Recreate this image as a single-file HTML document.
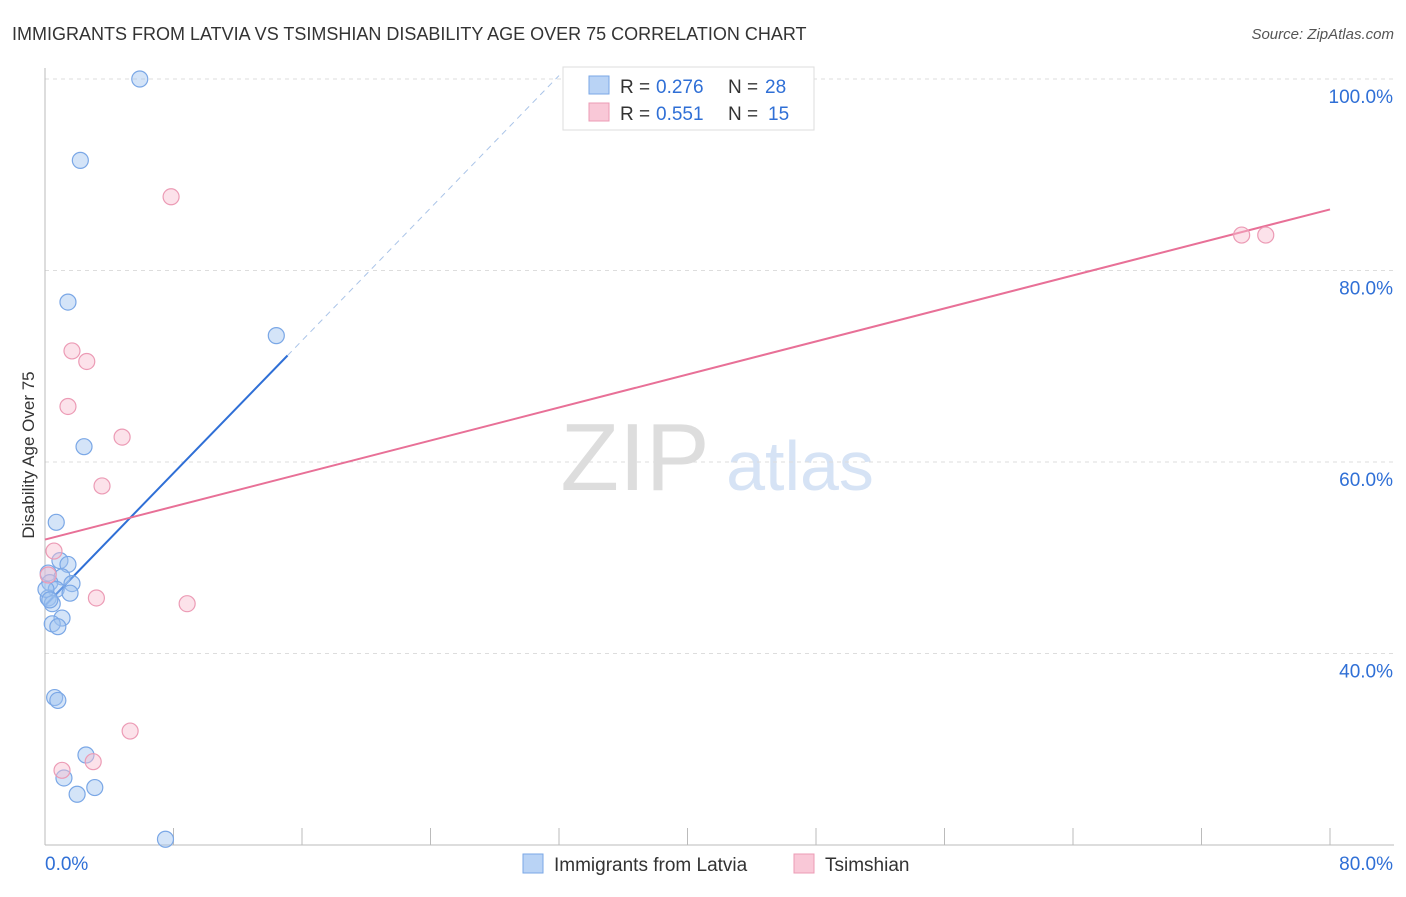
<!DOCTYPE html>
<html><head><meta charset="utf-8"><style>
body{margin:0;background:#fff;font-family:"Liberation Sans",sans-serif;}
svg text{font-family:"Liberation Sans",sans-serif;}
</style></head><body>
<svg id="chart" width="1406" height="892" viewBox="0 0 1406 892">
<text x="12" y="40" font-size="18" fill="#333">IMMIGRANTS FROM LATVIA VS TSIMSHIAN DISABILITY AGE OVER 75 CORRELATION CHART</text>
<text x="1394" y="39" font-size="15" fill="#555" text-anchor="end" font-style="italic">Source: ZipAtlas.com</text>
<text x="34" y="455" font-size="17" fill="#333" text-anchor="middle" transform="rotate(-90 34 455)">Disability Age Over 75</text>
<g><text x="635" y="490" font-size="96" fill="#ddd" font-family="Liberation Serif" text-anchor="middle">ZIP</text><text x="800" y="490" font-size="70" fill="#d6e3f5" text-anchor="middle">atlas</text></g>
<g id="grid"></g><g id="axes"></g><g id="lines"></g><g id="points"></g>
<g>
<rect x="563" y="67" width="251" height="63" fill="#fff" stroke="#ddd"/>
<rect x="589" y="76" width="20" height="18" fill="#b9d3f5" stroke="#7aa7e6"/>
<rect x="589" y="103" width="20" height="18" fill="#f9c8d7" stroke="#ec9bb5"/>
<text x="620" y="93" font-size="19" fill="#333">R =</text><text x="656" y="93" font-size="19" fill="#2f6fd6">0.276</text>
<text x="728" y="93" font-size="19" fill="#333">N =</text><text x="765" y="93" font-size="19" fill="#2f6fd6">28</text>
<text x="620" y="120" font-size="19" fill="#333">R =</text><text x="656" y="120" font-size="19" fill="#2f6fd6">0.551</text>
<text x="728" y="120" font-size="19" fill="#333">N =</text><text x="768" y="120" font-size="19" fill="#2f6fd6">15</text>
</g>
<g>
<rect x="523" y="854" width="20" height="19" fill="#b9d3f5" stroke="#7aa7e6"/>
<text x="554" y="871" font-size="19" fill="#333">Immigrants from Latvia</text>
<rect x="794" y="854" width="20" height="19" fill="#f9c8d7" stroke="#ec9bb5"/>
<text x="825" y="871" font-size="19" fill="#333">Tsimshian</text>
</g>
</svg>
<script>
const blueX=[5.9,2.2,1.43,14.4,2.43,0.7,0.93,1.43,0.2,1.06,0.3,1.68,0.7,1.56,0.2,0.45,1.06,0.45,0.8,0.6,0.8,2.55,1.18,3.1,2.0,7.5,0.06,0.3];
const blueY=[100,91.5,76.7,73.2,61.6,53.7,49.7,49.3,48.4,48.0,47.4,47.3,46.7,46.3,45.8,45.2,43.7,43.1,42.8,35.4,35.1,29.4,27.0,26.0,25.3,20.6,46.7,45.6];
const pinkX=[7.85,1.68,2.6,1.43,4.8,3.55,0.56,0.2,3.2,8.85,5.3,1.06,3.0,74.5,76.0];
const pinkY=[87.7,71.6,70.5,65.8,62.6,57.5,50.7,48.2,45.8,45.2,31.9,27.8,28.7,83.7,83.7];
const yTicks=[40,60,80,100];
const yTickLabels=["40.0%","60.0%","80.0%","100.0%"];
const xTicks=[0,8,16,24,32,40,48,56,64,72,80];
const blueTrend=[45.0,1.73,0,15.1,32];
const pinkTrend=[51.9,0.431,0,80];
const NS="http://www.w3.org/2000/svg";
const X=v=>45+v*1285/80, Y=v=>845-(v-20)*766/80;
function mk(tag,attrs,parent){const e=document.createElementNS(NS,tag);for(const k in attrs)e.setAttribute(k,attrs[k]);document.getElementById(parent).appendChild(e);return e;}
yTicks.forEach((t,i)=>{
 const g=mk('line',{x1:45,x2:1394,y1:Y(t),y2:Y(t),stroke:'#ddd','stroke-dasharray':'4 4'},'grid');
 
 
 const tx=mk('text',{x:1393,y:Y(t)+24,'font-size':19,fill:'#2f6fd6','text-anchor':'end'},'axes');
 tx.textContent=yTickLabels[i];
 
 
});
const topGrid=mk('line',{x1:45,x2:1394,y1:79,y2:79,stroke:'#ddd','stroke-dasharray':'4 4'},'grid');


const ya=mk('line',{x1:45,x2:45,y1:68,y2:845,stroke:'#bbb'},'axes');


const xa=mk('line',{x1:45,x2:1394,y1:845,y2:845,stroke:'#bbb'},'axes');


xTicks.forEach(t=>{
 const l=mk('line',{x1:X(t),x2:X(t),y1:828,y2:845,stroke:'#bbb'},'axes');
 
 
});
const xl0=mk('text',{x:45,y:870,'font-size':19,fill:'#2f6fd6'},'axes');xl0.textContent="0.0%";


const xl1=mk('text',{x:1393,y:870,'font-size':19,fill:'#2f6fd6','text-anchor':'end'},'axes');xl1.textContent="80.0%";


const bf=x=>blueTrend[0]+blueTrend[1]*x;
const bl=mk('line',{x1:X(blueTrend[2]),y1:Y(bf(blueTrend[2])),x2:X(blueTrend[3]),y2:Y(bf(blueTrend[3])),stroke:'#2f6fd6','stroke-width':2},'lines');


const bd=mk('line',{x1:X(blueTrend[3]),y1:Y(bf(blueTrend[3])),x2:X(blueTrend[4]),y2:Y(bf(blueTrend[4])),stroke:'#aac4e8','stroke-width':1,'stroke-dasharray':'6 5'},'lines');


const pf=x=>pinkTrend[0]+pinkTrend[1]*x;
const pl=mk('line',{x1:X(pinkTrend[2]),y1:Y(pf(pinkTrend[2])),x2:X(pinkTrend[3]),y2:Y(pf(pinkTrend[3])),stroke:'#e87097','stroke-width':2},'lines');


blueX.forEach((x,i)=>{
 const c=mk('circle',{cx:X(x),cy:Y(blueY[i]),r:8,fill:'rgba(160,195,240,0.45)',stroke:'#7aa7e6','stroke-width':1.2},'points');
 
 
});
pinkX.forEach((x,i)=>{
 const c=mk('circle',{cx:X(x),cy:Y(pinkY[i]),r:8,fill:'rgba(248,190,208,0.45)',stroke:'#ec9bb5','stroke-width':1.2},'points');
 
 
});
</script>
</body></html>
